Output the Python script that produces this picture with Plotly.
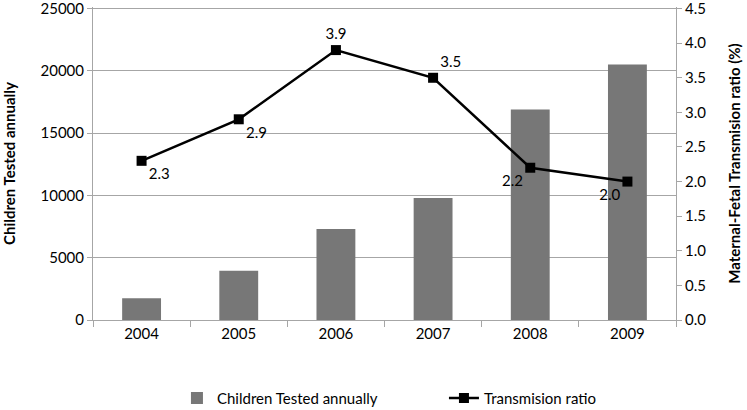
import plotly.graph_objects as go

years = ["2004", "2005", "2006", "2007", "2008", "2009"]
children_tested = [1750, 3950, 7300, 9800, 16900, 20500]
transmission_ratio = [2.3, 2.9, 3.9, 3.5, 2.2, 2.0]
label_positions = ["bottom right", "bottom right", "top center", "top right", "bottom left", "bottom left"]
left_ticks = [0, 5000, 10000, 15000, 20000, 25000]
right_ticks = [0.0, 0.5, 1.0, 1.5, 2.0, 2.5, 3.0, 3.5, 4.0, 4.5]

FONT = "Lato"
FS = 15
PAD = 1.005  # small headroom so the top gridline is drawn

fig = go.Figure()
fig.add_trace(go.Bar(
    x=years, y=children_tested, name="Children Tested annually",
    marker=dict(color="#777777", line=dict(width=0)), width=0.4,
))
fig.add_trace(go.Scatter(
    x=years, y=transmission_ratio, name="Transmision ratio", yaxis="y2",
    mode="lines+markers+text",
    line=dict(color="black", width=2.5),
    marker=dict(symbol="square", size=10, color="black"),
    text=[f"{v:.1f}" for v in transmission_ratio],
    textposition=label_positions,
    textfont=dict(family=FONT, size=FS, color="black"),
))

fig.update_layout(
    width=747, height=410,
    margin=dict(l=93, r=71, t=7, b=90, autoexpand=False),
    plot_bgcolor="white", paper_bgcolor="white",
    font=dict(family=FONT, size=FS, color="black"),
    showlegend=True,
    legend=dict(orientation="h", x=0.144, xanchor="left", y=-0.25, yanchor="middle",
                font=dict(family=FONT, size=FS), itemwidth=30, tracegroupgap=0,
                entrywidth=222, entrywidthmode="pixels"),
    xaxis=dict(
        type="category", showgrid=False, showline=True, linecolor="#a6a6a6", linewidth=1,
        ticks="outside", tickson="boundaries", ticklen=6, tickcolor="#a6a6a6",
        tickfont=dict(family=FONT, size=FS), automargin=False,
    ),
    yaxis=dict(
        range=[0, 25000 * PAD], tickvals=left_ticks, ticktext=[str(v) for v in left_ticks],
        showgrid=True, gridcolor="#a6a6a6", gridwidth=1, ticklabeloverflow="allow",
        showline=True, linecolor="#a6a6a6", linewidth=1, ticks="outside", ticklen=5,
        tickcolor="#a6a6a6", zeroline=False, automargin=False,
        title=dict(text="<b>Children Tested annually</b>", font=dict(family=FONT, size=FS), standoff=22),
        tickfont=dict(family=FONT, size=FS),
    ),
    yaxis2=dict(
        range=[0, 4.5 * PAD], tickvals=right_ticks, ticktext=[f"{v:.1f}" for v in right_ticks],
        overlaying="y", side="right", ticklabeloverflow="allow", automargin=False,
        showgrid=False, showline=True, linecolor="#a6a6a6", linewidth=1, ticks="outside",
        ticklen=5, tickcolor="#a6a6a6", zeroline=False,
        title=dict(text="<b>Maternal-Fetal Transmision ratio (%)</b>", font=dict(family=FONT, size=FS), standoff=24),
        tickfont=dict(family=FONT, size=FS),
    ),
)

fig.write_html("out.html", config={"displayModeBar": False},
               post_script="document.body.style.margin='0';")
